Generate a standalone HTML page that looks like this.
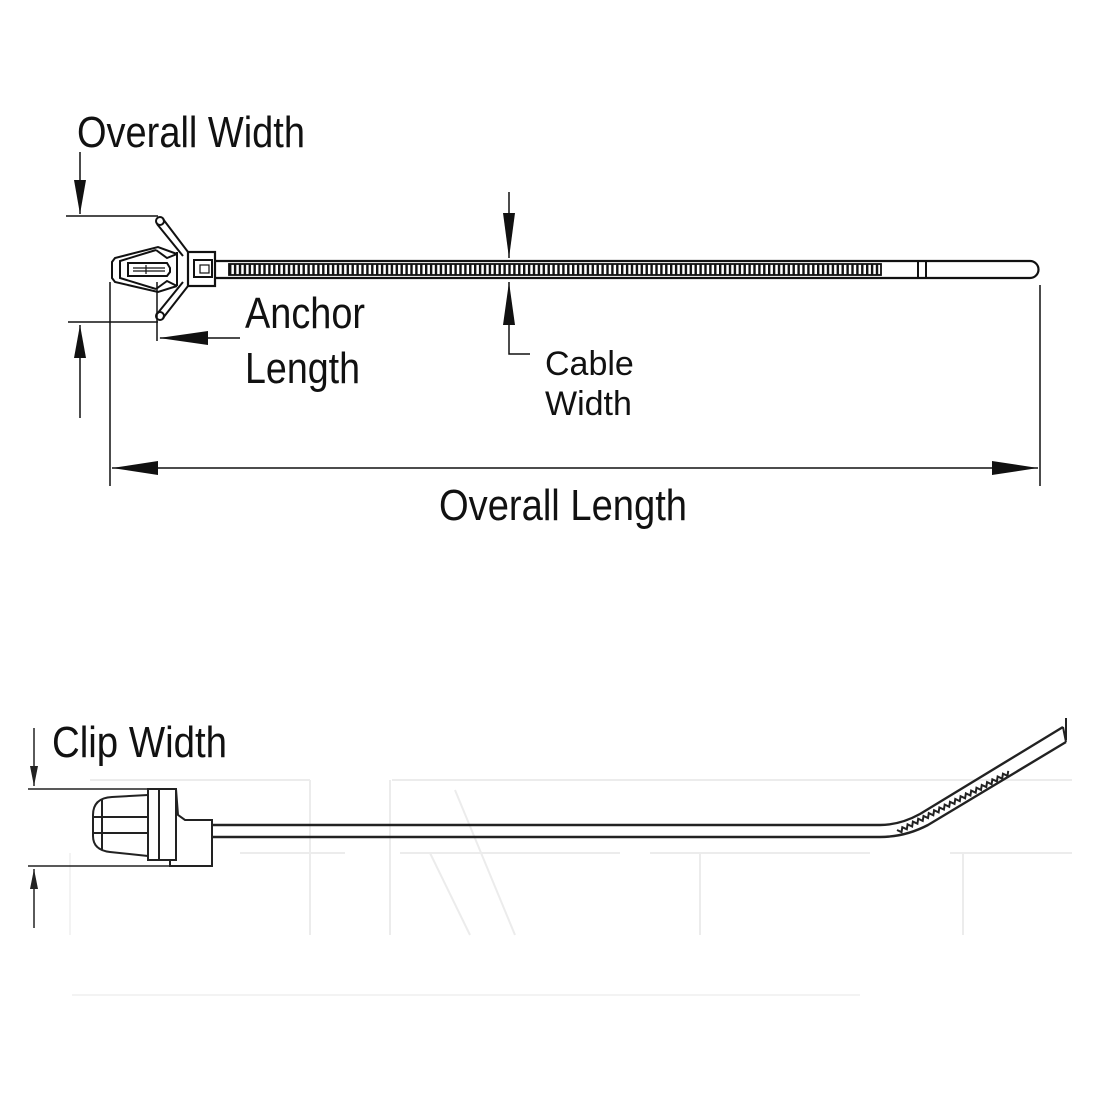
<!DOCTYPE html>
<html><head><meta charset="utf-8"><style>html,body{margin:0;padding:0;background:#fff}svg{display:block}</style></head>
<body>
<svg width="1100" height="1100" viewBox="0 0 1100 1100" xmlns="http://www.w3.org/2000/svg" font-family="Liberation Sans, sans-serif">
<defs>
<pattern id="rib" x="229" y="0" width="4.9" height="20" patternUnits="userSpaceOnUse">
<rect x="0" y="0" width="2.4" height="20" fill="#111"/>
</pattern>
</defs>
<rect width="1100" height="1100" fill="#fff"/>
<g stroke="#111" fill="none" stroke-width="2">
<path d="M215 261 H1030 A8.5 8.5 0 0 1 1030 278 H215" stroke-width="2.2"/>
<rect x="229" y="264" width="652" height="11" fill="url(#rib)" stroke="#111" stroke-width="1.8"/>
<line x1="918" y1="261" x2="918" y2="278"/>
<line x1="926" y1="261" x2="926" y2="278"/>
<rect x="188" y="252" width="27" height="34" stroke-width="2.2"/>
<rect x="194" y="260" width="18" height="17"/>
<rect x="200" y="265" width="9" height="8" stroke-width="1.2"/>
<path d="M188 252 L163 219 M183 256 L157 224"/>
<circle cx="160" cy="221" r="4"/>
<path d="M188 286 L163 318 M183 282 L157 314"/>
<circle cx="160" cy="316" r="4"/>
<path d="M177 252 V286"/>
<path d="M177 254 L158 247 L115 258 L112 262 V278 L115 282 L158 292 L177 286"/>
<path d="M156 250 L120 261 V278 L156 289"/>
<path d="M156 250 L167 258 L177 254 M156 289 L167 281 L177 286"/>
<path d="M128 263 H167 L170 268 V272 L167 276 H128 Z"/>
<path d="M146 265 V274 M133 268 H165 M133 271 H165" stroke-width="1.2"/>
<line x1="66" y1="216" x2="158" y2="216" stroke-width="1.5"/>
<line x1="80" y1="152" x2="80" y2="214" stroke-width="1.5"/>
<line x1="68" y1="322" x2="158" y2="322" stroke-width="1.5"/>
<line x1="80" y1="325" x2="80" y2="418" stroke-width="1.5"/>
<line x1="157" y1="282" x2="157" y2="341" stroke-width="1.5"/>
<line x1="160" y1="338" x2="240" y2="338" stroke-width="1.5"/>
<line x1="110" y1="282" x2="110" y2="486" stroke-width="1.5"/>
<line x1="1040" y1="285" x2="1040" y2="486" stroke-width="1.5"/>
<line x1="112" y1="468" x2="1038" y2="468" stroke-width="1.5"/>
<line x1="509" y1="192" x2="509" y2="258" stroke-width="1.5"/>
<path d="M509 282 V354 H530" stroke-width="1.5"/>
</g>
<g fill="#111">
<polygon points="80,214 74,180 86,180"/>
<polygon points="80,325 74,358 86,358"/>
<polygon points="159,338 208,331 208,345"/>
<polygon points="112,468 158,461 158,475"/>
<polygon points="1038,468 992,461 992,475"/>
<polygon points="509,258 503,213 515,213"/>
<polygon points="509,282 503,325 515,325"/>
</g>
<g fill="#111">
<text x="77" y="147" font-size="44" textLength="228" lengthAdjust="spacingAndGlyphs">Overall Width</text>
<text x="245" y="328" font-size="44" textLength="120" lengthAdjust="spacingAndGlyphs">Anchor</text>
<text x="245" y="383" font-size="44" textLength="115" lengthAdjust="spacingAndGlyphs">Length</text>
<text x="545" y="375" font-size="34">Cable</text>
<text x="545" y="415" font-size="34">Width</text>
<text x="439" y="520" font-size="44" textLength="248" lengthAdjust="spacingAndGlyphs">Overall Length</text>
<text x="52" y="757" font-size="44" textLength="175" lengthAdjust="spacingAndGlyphs">Clip Width</text>
</g>
<g stroke="#ececec" stroke-width="2" fill="none">
<path d="M90 780 H310 M392 780 H1072 M390 780 V935 M310 780 V935"/>
<path d="M240 853 H345 M400 853 H620 M650 853 H870 M950 853 H1072 M963 853 V935 M700 853 V935 M430 853 L470 935 M455 790 L515 935"/>
<path d="M70 853 V935 M72 995 H860" stroke="#f3f3f3"/>
</g>
<g stroke="#222" fill="none" stroke-width="2">
<line x1="28" y1="789" x2="170" y2="789" stroke-width="1.5"/>
<line x1="28" y1="866" x2="170" y2="866" stroke-width="1.5"/>
<line x1="34" y1="728" x2="34" y2="786" stroke-width="1.5"/>
<line x1="34" y1="869" x2="34" y2="928" stroke-width="1.5"/>
<path d="M148 795 L112 797 Q93 798 93 815 V836 Q93 850 110 852 L148 856"/>
<path d="M102 800 V850 M93 817 H148 M93 833 H148"/>
<rect x="148" y="789" width="28" height="71"/>
<line x1="159" y1="789" x2="159" y2="860"/>
<path d="M176 789 L178 815 L185 820 H212 V866 H170 V860"/>
<path d="M212 825 H880 Q900 825 920 814 L1063 727" stroke-width="2.4"/>
<path d="M212 837 H880 Q905 837 928 825 L1066 742" stroke-width="2.4"/>
<path d="M1063 727 L1066 742 M1066 718 V740"/>
<path transform="rotate(-28 897 830)" d="M897 830 l3 4 l3 -4 l3 4 l3 -4 l3 4 l3 -4 l3 4 l3 -4 l3 4 l3 -4 l3 4 l3 -4 l3 4 l3 -4 l3 4 l3 -4 l3 4 l3 -4 l3 4 l3 -4 l3 4 l3 -4 l3 4 l3 -4 l3 4 l3 -4 l3 4 l3 -4 l3 4 l3 -4 l3 4 l3 -4 l3 4 l3 -4 l3 4 l3 -4 l3 4 l3 -4 l3 4 l3 -4 l3 4 l3 -4" stroke-width="2"/>
</g>
<g fill="#222">
<polygon points="34,786 30,766 38,766"/>
<polygon points="34,869 30,889 38,889"/>
</g>
</svg>
</body></html>
